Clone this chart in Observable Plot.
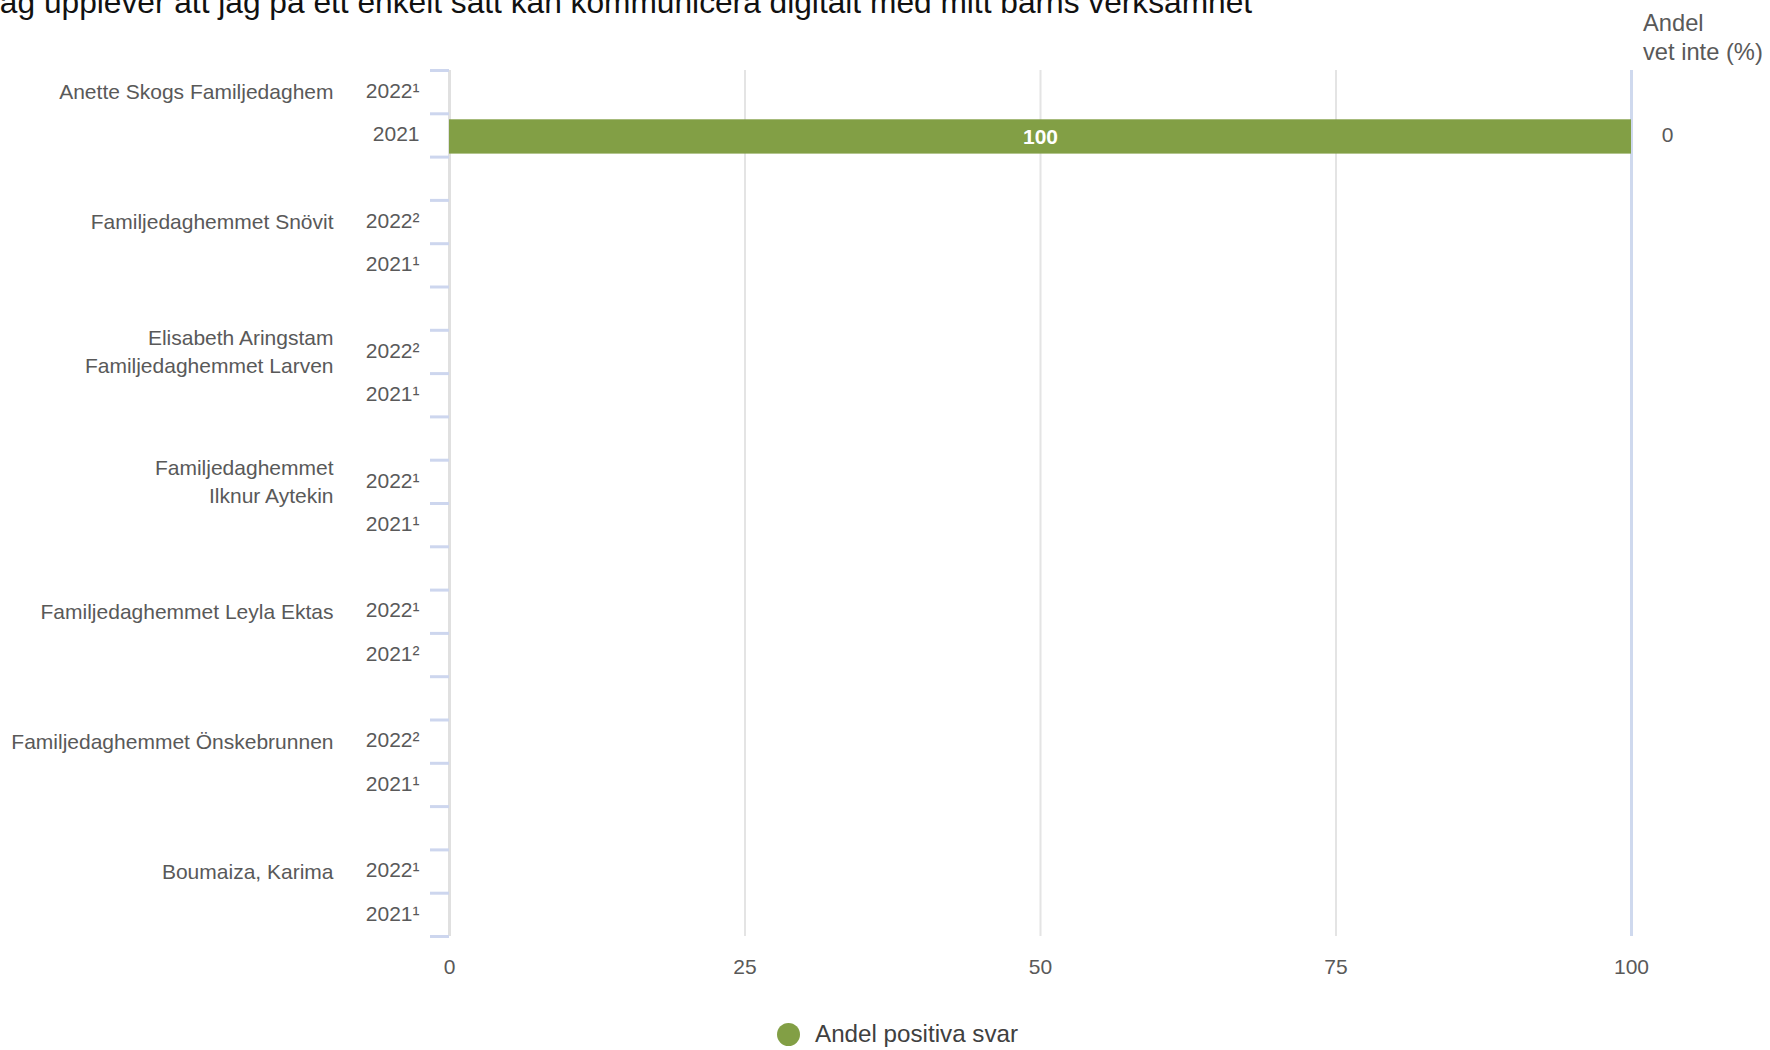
<!DOCTYPE html>
<html>
<head>
<meta charset="utf-8">
<script src="https://cdn.jsdelivr.net/npm/d3@7"></script>
<script src="https://cdn.jsdelivr.net/npm/@observablehq/plot@0.6"></script>
<style>
  html, body { margin: 0; padding: 0; background: #fff; overflow: hidden; }
  body { width: 1770px; height: 1050px; position: relative; font-family: "Liberation Sans", Arial, sans-serif; }
  #title { position: absolute; left: -16px; top: -14px; font-size: 31.7px; line-height: 32px; color: #111; white-space: nowrap; }
  #hdr { position: absolute; left: 1643px; top: 9px; font-size: 23.7px; line-height: 29px; color: #595959; white-space: nowrap; }
  #chart { position: absolute; left: 0; top: 0; }
  #legend { position: absolute; left: 777px; top: 1020px; display: flex; align-items: center; font-size: 24.2px; color: #404040; }
  #legend .dot { width: 23px; height: 23px; border-radius: 50%; background: #829f45; margin-right: 15px; }
</style>
</head>
<body>
<div id="title">Jag upplever att jag på ett enkelt sätt kan kommunicera digitalt med mitt barns verksamhet</div>
<div id="hdr">Andel<br>vet inte (%)</div>
<div id="chart"></div>
<div id="legend"><span class="dot"></span><span>Andel positiva svar</span></div>
<script>
// ---- data ----
const groups = [
  "Anette Skogs Familjedaghem",
  "Familjedaghemmet Snövit",
  "Elisabeth Aringstam\nFamiljedaghemmet Larven",
  "Familjedaghemmet\nIlknur Aytekin",
  "Familjedaghemmet Leyla Ektas",
  "Familjedaghemmet Önskebrunnen",
  "Boumaiza, Karima"
];
const years = [
  ["2022¹", "2021"],
  ["2022²", "2021¹"],
  ["2022²", "2021¹"],
  ["2022¹", "2021¹"],
  ["2022¹", "2021²"],
  ["2022²", "2021¹"],
  ["2022¹", "2021¹"]
];
const positive = [
  [null, 100],
  [null, null],
  [null, null],
  [null, null],
  [null, null],
  [null, null],
  [null, null]
];
const vetInte = [
  [null, 0],
  [null, null],
  [null, null],
  [null, null],
  [null, null],
  [null, null],
  [null, null]
];
const xTicks = [0, 25, 50, 75, 100];

// ---- table ----
const rows = [];
groups.forEach((g, i) => {
  years[i].forEach((yr, j) => {
    rows.push({group: g, year: yr, pos: positive[i][j], vet: vetInte[i][j], row: 3 * i + j});
  });
});
const nSlots = groups.length * 3 - 1;
const groupRows = groups.map((g, i) => ({group: g, row: 3 * i}));

const labelColor = "#595959";
const green = "#829f45";

const chart = Plot.plot({
  width: 1770,
  height: 996,
  marginTop: 70,
  marginBottom: 60,
  marginLeft: 449,
  marginRight: 139,
  style: {fontFamily: "'Liberation Sans', Arial, sans-serif", fontSize: "21px", color: labelColor, background: "transparent"},
  x: {domain: [0, 100]},
  y: {domain: [0, nSlots], reverse: true},
  marks: [
    Plot.ruleX([25, 50, 75], {stroke: "#e4e4e4", strokeWidth: 2, y1: 0, y2: nSlots}),
    Plot.ruleX([0], {stroke: "#e0e0e0", strokeWidth: 3, y1: 0, y2: nSlots}),
    Plot.ruleX([100], {stroke: "#cfd9ee", strokeWidth: 3, y1: 0, y2: nSlots}),
    Plot.axisY({ticks: d3.range(0, nSlots + 1), tickSize: 19, stroke: "#cdd6ee", strokeWidth: 3, fill: "none", label: null}),
    Plot.axisX({ticks: xTicks, tickSize: 0, tickPadding: 23, tickFormat: d => String(d), fontSize: 21, color: labelColor, label: null}),
    Plot.rectX(rows.filter(d => d.pos != null), {x: "pos", y1: d => d.row, y2: d => d.row + 1, insetTop: 6, insetBottom: 3, fill: green}),
    Plot.text(rows.filter(d => d.pos != null), {x: d => d.pos / 2, y: d => d.row + 0.5, dy: 2, text: d => String(d.pos), fill: "white", fontWeight: "bold", fontSize: 21}),
    Plot.text(rows.filter(d => d.vet != null), {y: d => d.row + 0.5, frameAnchor: "right", dx: 36, textAnchor: "middle", text: d => String(d.vet), fill: labelColor, fontSize: 21}),
    Plot.text(rows, {y: d => d.row + 0.5, frameAnchor: "left", dx: -30, dy: -1, textAnchor: "end", text: "year", fill: labelColor, fontSize: 21}),
    Plot.text(groupRows, {y: d => d.row + 0.5, frameAnchor: "left", dx: -116, dy: -2, textAnchor: "end", text: "group", fill: labelColor, fontSize: 21, lineHeight: 1.35})
  ]
});
document.getElementById("chart").appendChild(chart);
</script>
</body>
</html>
